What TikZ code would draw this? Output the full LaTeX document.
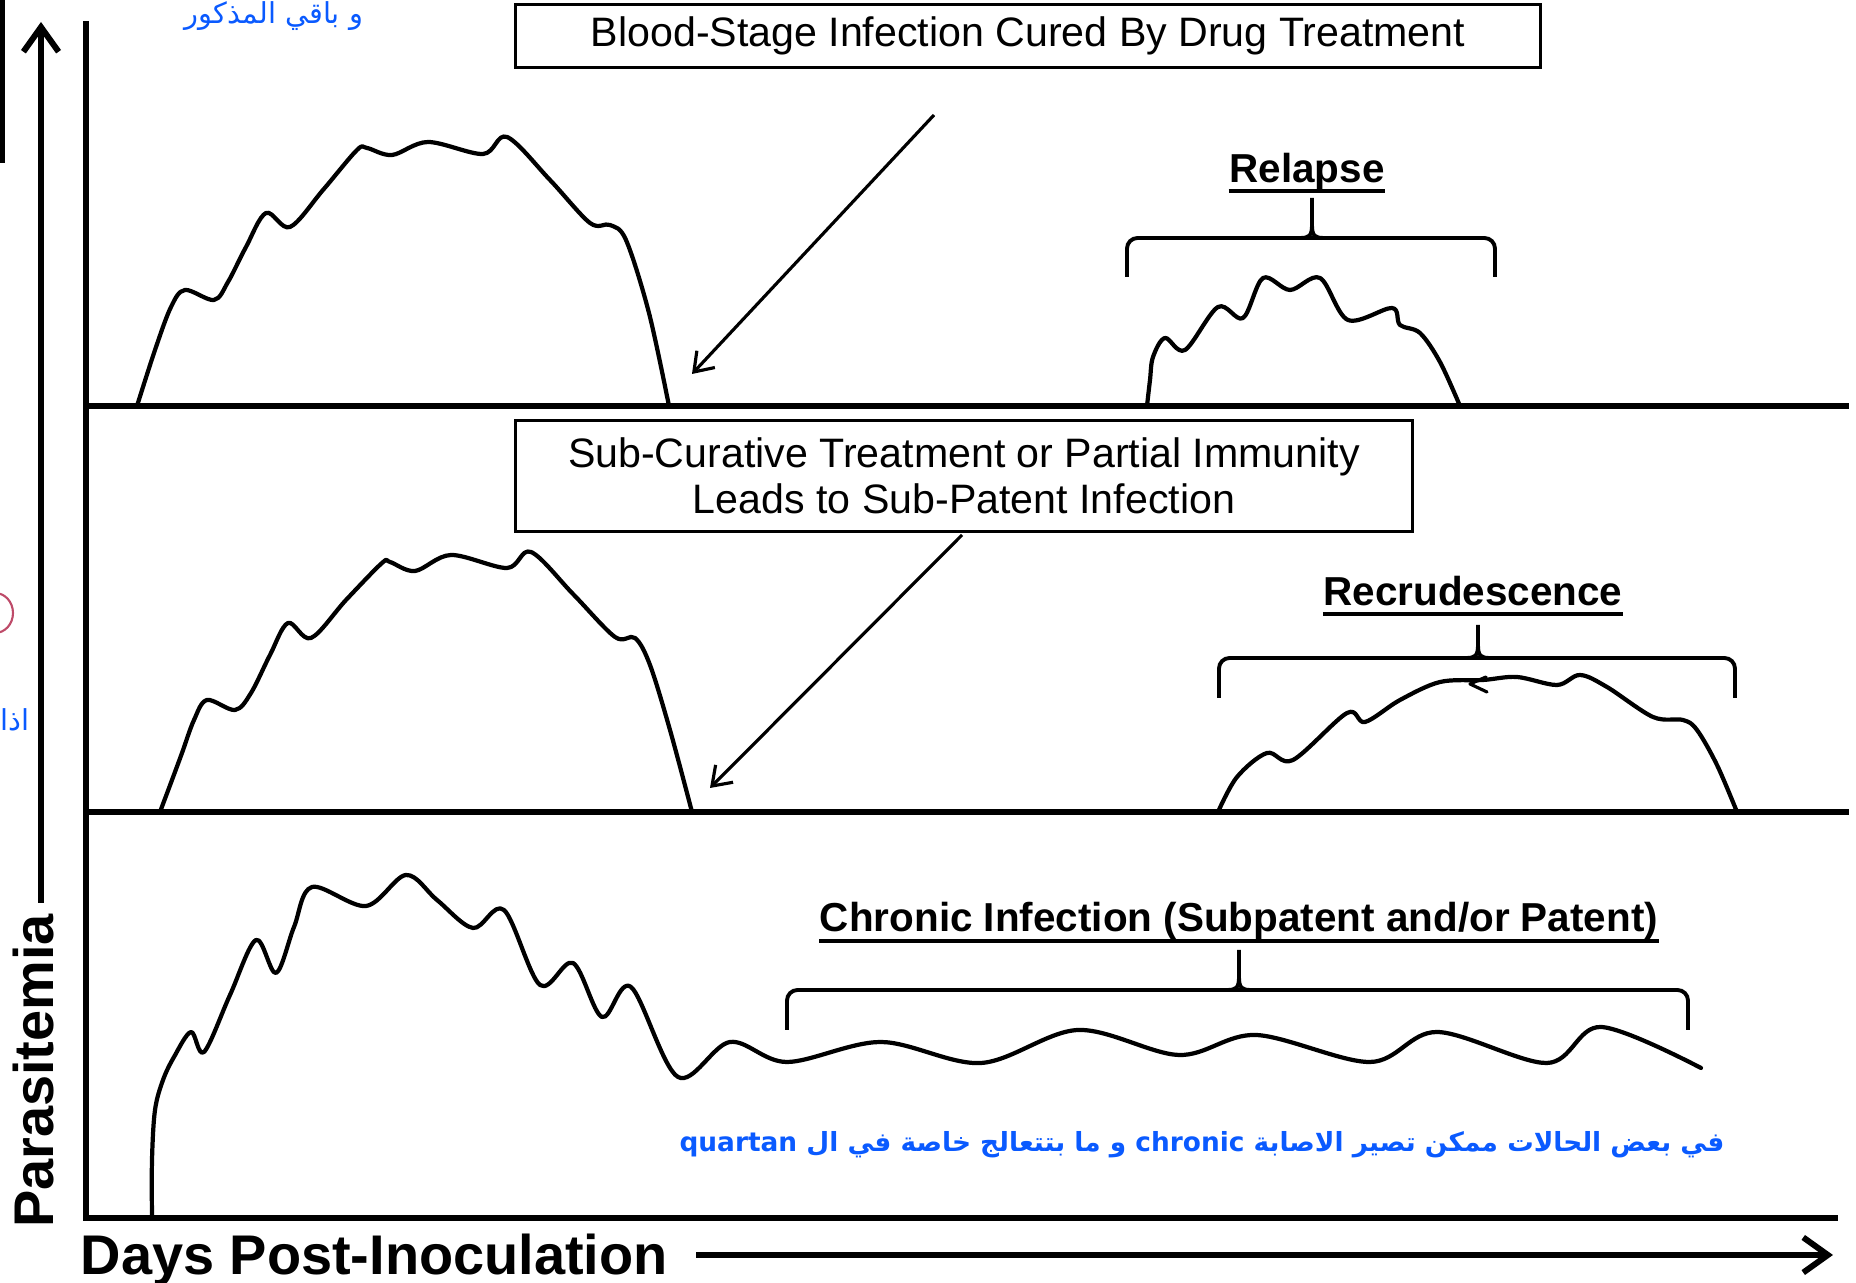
\documentclass[tikz,border=0pt]{standalone}
\usepackage{fontspec}
\setmainfont{Liberation Sans}
\newfontfamily\arabicfont[Script=Arabic]{DejaVu Sans}
\TeXXeTstate=1
\usetikzlibrary{arrows.meta, calc}

\definecolor{notecolor}{RGB}{10, 90, 255}
\definecolor{markcolor}{RGB}{190, 75, 105}

\tikzset{
    % Axes and panel lines
    axisline/.style={line width=1.7pt},
    axisarrow/.style={line width=1.7pt, -{Straight Barb[length=7pt, width=10pt]}},
    % Parasitemia curves
    parcurve/.style={line width=1.2pt, line join=round, line cap=round},
    % Boxes and labels
    textbox/.style={draw, line width=0.8pt, align=center, inner sep=0pt,
        font=\fontsize{11.7}{13.1}\selectfont},
    phaselabel/.style={inner sep=0pt, anchor=base, font=\bfseries\fontsize{11.5}{13}\selectfont},
    labelrule/.style={line width=1.1pt},
    bracket/.style={line width=1.1pt, rounded corners=3pt},
    brackettick/.style={line width=1.1pt, line join=round},
    pointer/.style={line width=0.9pt, -{Straight Barb[length=5pt, width=7pt]}},
    axislabel/.style={inner sep=0pt, font=\bfseries\fontsize{15.9}{18}\selectfont},
    % Handwritten notes
    note/.style={inner sep=0pt, text=notecolor, font=\arabicfont\fontsize{8.2}{10}\selectfont},
}

\begin{document}
\begin{tikzpicture}[x=0.01cm, y=-0.01cm]
\useasboundingbox (0,0) rectangle (1856,1283);

% ===== Axes =====
\draw[axisline] (2,0) -- (2,163);
\coordinate (ytail) at (41,903);
\coordinate (yhead) at (41,22);
\draw[axisarrow] (ytail) -- (yhead);
\node[axislabel, rotate=90] (ylabel) at (34,1071) {Parasitemia};

\draw[axisline] (86,21) -- (86,1218) -- (1838,1218);
\draw[axisline] (86,406) -- (1849,406);
\draw[axisline] (86,812) -- (1849,812);

\node[axislabel, anchor=base west] (xlabel) at (80,1275) {Days Post-Inoculation};
\coordinate (xtail) at (696,1255);
\coordinate (xhead) at (1833,1255);
\draw[axisarrow] (xtail) -- (xhead);

% ===== Panel 1: cured =====
\node[textbox, minimum width=10.25cm, minimum height=0.63cm] (curedbox) at (1028,36)
    {Blood-Stage Infection Cured By Drug Treatment};

\draw[parcurve] plot[smooth, tension=0.55] coordinates {
    (137,406) (155,350) (171,307) (185,290) (214,300) (228,282) (246,247)
    (266,213) (290,227) (323,190) (357,150) (367,148) (392,155) (428,142)
    (483,154) (507,137) (550,180) (590,223) (610,225) (626,240) (649,313) (669,406)};

\coordinate (curedtail) at (934,115);
\coordinate (curedtip) at (692,374);
\draw[pointer] (curedtail) -- (curedtip);

% relapse
\node[phaselabel] (relapse) at (1307,183) {Relapse};
\draw[labelrule] ($(relapse.base west)+(0,8)$) -- ($(relapse.base east)+(0,8)$);
\draw[bracket] (1127,277) -- (1127,238) -- (1495,238) -- (1495,277);
\draw[brackettick] (1300,238) .. controls (1309,238) and (1312,236) .. (1312,225) -- (1312,198);
\draw[brackettick] (1324,238) .. controls (1315,238) and (1312,236) .. (1312,225);

\draw[parcurve] plot[smooth, tension=0.55] coordinates {
    (1147,406) (1150,380) (1153,357) (1165,338) (1185,350) (1218,307) (1243,318)
    (1263,278) (1290,290) (1320,278) (1348,320) (1392,308) (1400,325) (1420,333)
    (1440,362) (1460,406)};

% ===== Panel 2: sub-curative =====
\node[textbox, minimum width=8.97cm, minimum height=1.11cm] (subbox) at (964,476)
    {Sub-Curative Treatment or Partial Immunity\\Leads to Sub-Patent Infection};

\draw[parcurve] plot[smooth, tension=0.55] coordinates {
    (160,812) (172,780) (182,753) (194,720) (207,700) (235,710) (251,693)
    (270,655) (288,623) (311,638) (346,600) (382,563) (390,562) (415,571)
    (451,555) (507,568) (531,552) (573,594) (615,637) (635,638) (650,665)
    (670,730) (692,812)};

\coordinate (subtail) at (962,535);
\coordinate (subtip) at (710,788);
\draw[pointer] (subtail) -- (subtip);

% recrudescence
\node[phaselabel] (recrud) at (1473,606) {Recrudescence};
\draw[labelrule] ($(recrud.base west)+(0,8)$) -- ($(recrud.base east)+(0,8)$);
\draw[bracket] (1219,698) -- (1219,658) -- (1735,658) -- (1735,698);
\draw[brackettick] (1466,658) .. controls (1475,658) and (1478,656) .. (1478,645) -- (1478,625);
\draw[brackettick] (1490,658) .. controls (1481,658) and (1478,656) .. (1478,645);

\draw[parcurve] plot[smooth, tension=0.55] coordinates {
    (1218,812) (1237,777) (1267,753) (1293,760) (1347,713) (1365,722) (1400,700)
    (1440,682) (1483,680) (1517,677) (1557,685) (1580,675) (1607,687) (1653,717)
    (1683,720) (1697,730) (1717,765) (1737,812)};
\draw[parcurve, line width=0.9pt] (1486,677) -- (1470,684) -- (1487,692);

% ===== Panel 3: chronic =====
\node[phaselabel] (chronic) at (1239,932) {Chronic Infection (Subpatent and/or Patent)};
\draw[labelrule] ($(chronic.base west)+(0,9)$) -- ($(chronic.base east)+(0,9)$);
\draw[bracket] (787,1030) -- (787,990) -- (1688,990) -- (1688,1030);
\draw[brackettick] (1227,990) .. controls (1236,990) and (1239,988) .. (1239,977) -- (1239,950);
\draw[brackettick] (1251,990) .. controls (1242,990) and (1239,988) .. (1239,977);

\draw[parcurve] plot[smooth, tension=0.55] coordinates {
    (152,1218) (152,1160) (155,1110) (163,1080) (174,1057) (191,1032) (204,1052)
    (230,995) (256,940) (276,973) (294,927) (312,887) (366,906) (406,875)
    (437,900) (473,928) (504,910) (540,985) (573,963) (602,1017) (631,987)
    (678,1077) (730,1042) (787,1062) (881,1042) (981,1063) (1078,1030)
    (1179,1055) (1256,1035) (1370,1062) (1437,1032) (1547,1063) (1601,1027)
    (1701,1068)};

% ===== Notes =====
\node[note] (notetop) at (274,16) {\beginR و باقي المذكور\endR};
\node[note, anchor=west] (noteleft) at (0,720) {\beginR اذا\endR};
\draw[markcolor, line width=0.6pt] (-5,613) ellipse [x radius=18, y radius=20];
\node[note, font=\arabicfont\bfseries\fontsize{7.5}{9}\selectfont] (notebottom) at (1202,1145)
    {\beginR في بعض الحالات ممكن تصير الاصابة \beginL chronic\endL{}  و ما بتتعالج خاصة في ال \beginL quartan\endL\endR};

\end{tikzpicture}
\end{document}
